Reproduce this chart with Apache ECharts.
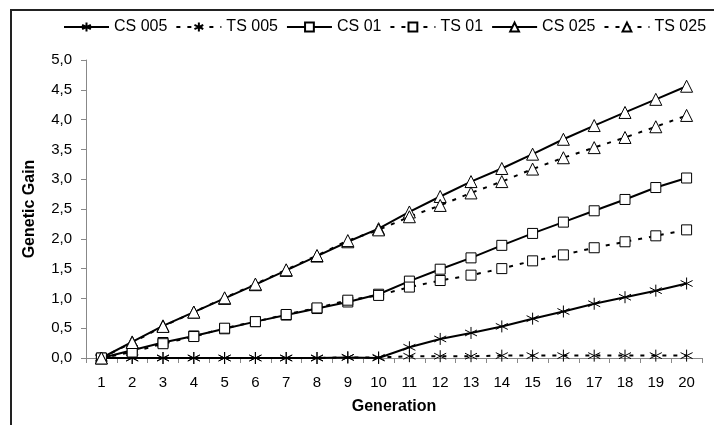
<!DOCTYPE html>
<html><head><meta charset="utf-8">
<script src="https://cdn.jsdelivr.net/npm/echarts@6/dist/echarts.min.js"></script>
<style>html,body{margin:0;padding:0;background:#fff}#c{width:714px;height:425px}</style>
</head><body><div id="c"></div>
<script>
const generations = ['1','2','3','4','5','6','7','8','9','10','11','12','13','14','15','16','17','18','19','20'];
const cs005 = [0,0,0,0,0,0,0,0,0.01,0,0.18,0.32,0.42,0.53,0.66,0.78,0.91,1.02,1.13,1.25];
const ts005 = [0,0,0,0,0,0,0,0,0.01,0.01,0.03,0.03,0.03,0.04,0.04,0.04,0.04,0.04,0.04,0.04];
const cs01 = [0,0.13,0.26,0.37,0.49,0.61,0.72,0.83,0.94,1.07,1.29,1.49,1.68,1.89,2.09,2.28,2.47,2.66,2.86,3.02];
const ts01 = [0,0.10,0.24,0.36,0.50,0.61,0.73,0.84,0.97,1.05,1.19,1.30,1.39,1.50,1.63,1.73,1.85,1.95,2.05,2.15];
const cs025 = [0,0.27,0.54,0.77,1.00,1.23,1.47,1.71,1.95,2.17,2.45,2.71,2.96,3.18,3.42,3.67,3.90,4.12,4.34,4.56];
const ts025 = [0,0.26,0.53,0.77,1.01,1.24,1.48,1.72,1.97,2.15,2.37,2.56,2.77,2.96,3.17,3.36,3.53,3.70,3.88,4.07];
const yTicks = ['0,0','0,5','1,0','1,5','2,0','2,5','3,0','3,5','4,0','4,5','5,0'];

const FONT = 'Liberation Sans, Arial, sans-serif';
const star = 'path://M5,0 L5,10 M0.7,2.5 L9.3,7.5 M0.7,7.5 L9.3,2.5';
function mk(name, data, dashed, symbol, size) {
  return {
    name, type: 'line', data,
    symbol, symbolSize: size, showAllSymbol: true,
    lineStyle: { color: '#000', width: 2, type: dashed ? [4, 7] : 'solid' },
    itemStyle: { color: '#fff', borderColor: '#000', borderWidth: 1 },
    emphasis: { disabled: true },
    animation: false, z: 3
  };
}
const chart = echarts.init(document.getElementById('c'));
chart.setOption({
  animation: false,
  textStyle: { fontFamily: FONT, color: '#000' },
  graphic: [{ type: 'rect', shape: { x: 11, y: 10, width: 800, height: 600 }, style: { fill: 'none', stroke: '#222', lineWidth: 2 }, silent: true, z: 0 }],
  legend: {
    top: 19, left: 63, right: 0, padding: 0, itemWidth: 45, itemHeight: 11, itemGap: 8,
    textStyle: { fontSize: 16, color: '#000', fontFamily: FONT },
    data: ['CS 005','TS 005','CS 01','TS 01','CS 025','TS 025']
  },
  grid: { left: 86, right: 12, top: 60, bottom: 67, containLabel: false },
  xAxis: {
    type: 'category', data: generations, boundaryGap: true,
    name: 'Generation', nameLocation: 'middle', nameGap: 41,
    nameTextStyle: { fontWeight: 'bold', fontSize: 16, color: '#000', fontFamily: FONT },
    axisLine: { lineStyle: { color: '#888', width: 1 } },
    axisTick: { show: true, inside: false, length: 5, lineStyle: { color: '#888' } },
    axisLabel: { fontSize: 15, color: '#000', margin: 17, interval: 0 }
  },
  yAxis: {
    type: 'value', min: 0, max: 5, interval: 0.5,
    name: 'Genetic Gain', nameLocation: 'middle', nameGap: 48, nameRotate: 90,
    nameTextStyle: { fontWeight: 'bold', fontSize: 16, color: '#000', fontFamily: FONT },
    axisLine: { show: true, lineStyle: { color: '#888', width: 1 } },
    axisTick: { show: true, inside: false, length: 5, lineStyle: { color: '#888' } },
    splitLine: { show: false },
    axisLabel: { fontSize: 15, color: '#000', margin: 14, formatter: (v) => yTicks[Math.round(v / 0.5)] }
  },
  series: [
    mk('CS 005', cs005, false, star, 12),
    mk('TS 005', ts005, true, star, 12),
    mk('CS 01', cs01, false, 'rect', 10),
    mk('TS 01', ts01, true, 'rect', 10),
    mk('CS 025', cs025, false, 'triangle', 12),
    mk('TS 025', ts025, true, 'triangle', 12)
  ]
});
</script></body></html>
